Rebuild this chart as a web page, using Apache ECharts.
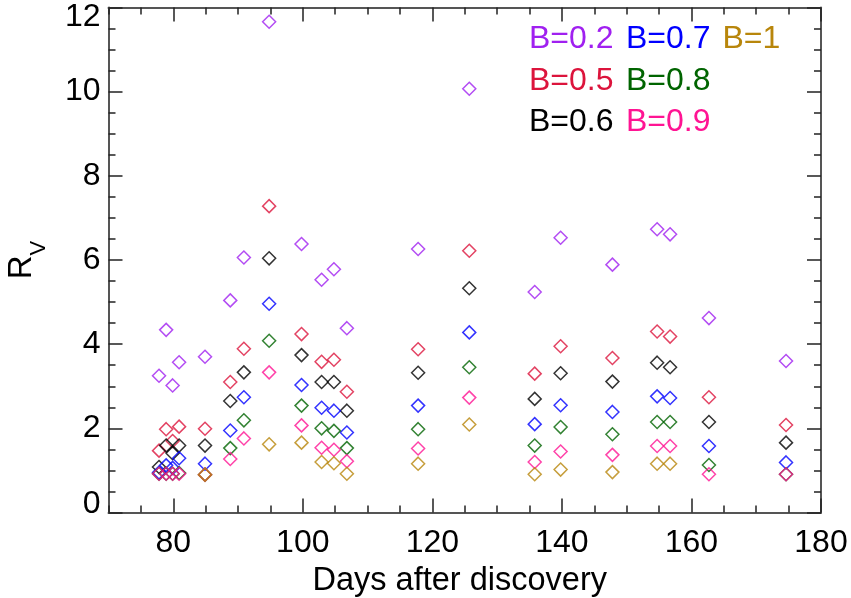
<!DOCTYPE html>
<html><head><meta charset="utf-8">
<script src="https://cdn.jsdelivr.net/npm/echarts@6/dist/echarts.min.js"></script>
<style>html,body{margin:0;padding:0;background:#fff}#c{width:851px;height:598px}</style>
</head><body><div id="c"></div>
<script>
// ---- data ----
const days = [77.8, 78.9, 79.9, 80.9, 84.9, 88.8, 90.9, 94.8, 99.8, 102.9, 104.8, 106.8, 117.8, 125.7, 135.8, 139.8, 147.8, 154.7, 156.7, 162.7, 174.6];
const rvB02 = [3.25, 4.34, 3.02, 3.57, 3.70, 5.04, 6.06, 11.66, 6.38, 5.53, 5.78, 4.38, 6.26, 10.07, 5.24, 6.53, 5.89, 6.73, 6.61, 4.62, 3.60];
const rvB05 = [1.47, 1.98, 1.70, 2.04, 1.99, 3.10, 3.89, 7.28, 4.24, 3.58, 3.63, 2.87, 3.88, 6.22, 3.30, 3.95, 3.67, 4.30, 4.18, 2.74, 2.08];
const rvB06 = [1.08, 1.59, 1.41, 1.59, 1.59, 2.65, 3.33, 6.04, 3.74, 3.10, 3.10, 2.42, 3.32, 5.33, 2.70, 3.31, 3.11, 3.56, 3.45, 2.15, 1.66];
const rvB07 = [0.95, 1.12, 1.06, 1.29, 1.16, 1.95, 2.74, 4.96, 3.03, 2.49, 2.42, 1.90, 2.54, 4.28, 2.10, 2.55, 2.39, 2.76, 2.72, 1.58, 1.19];
const rvB08 = [0.92, 0.92, 0.92, 0.94, 0.90, 1.53, 2.19, 4.08, 2.54, 2.00, 1.94, 1.53, 1.98, 3.45, 1.59, 2.03, 1.86, 2.15, 2.15, 1.13, 0.91];
const rvB09 = [0.92, 0.92, 0.92, 0.92, 0.90, 1.27, 1.76, 3.33, 2.07, 1.54, 1.49, 1.22, 1.52, 2.73, 1.20, 1.45, 1.37, 1.58, 1.58, 0.91, 0.91];
const rvB10 = [null, null, null, null, 0.90, null, null, 1.62, 1.66, 1.20, 1.17, 0.92, 1.16, 2.09, 0.91, 1.02, 0.96, 1.16, 1.16, null, null];
const seriesNames = ['B=0.2', 'B=0.5', 'B=0.6', 'B=0.7', 'B=0.8', 'B=0.9', 'B=1'];
const seriesValues = [rvB02, rvB05, rvB06, rvB07, rvB08, rvB09, rvB10];
const xMajorTicks = [80, 100, 120, 140, 160, 180];
const xTitle = 'Days after discovery';

// ---- style ----
const colors = ['#A020F0', '#DC143C', '#000000', '#0000FF', '#006400', '#FF1493', '#B8860B'];
const FONT = "'Liberation Sans', Arial, Helvetica, sans-serif";
const lineColor = '#555';
const tickColor = '#222';

const chart = echarts.init(document.getElementById('c'), null, {renderer: 'canvas'});

function xAxisDef(pos, major) {
  const a = {
    type: 'value', position: pos, min: 70, max: 180,
    axisLine: {show: major, onZero: false, lineStyle: {color: lineColor, width: 2}},
    splitLine: {show: false},
    axisLabel: {show: false},
    axisTick: {show: true, inside: true, length: major ? 14 : 7, lineStyle: {color: tickColor, width: 1.5}}
  };
  if (major) {
    a.axisTick.customValues = xMajorTicks;
    if (pos === 'bottom') {
      a.axisLabel = {show: true, customValues: xMajorTicks, fontSize: 32, fontFamily: FONT, color: '#000', margin: 15};
      a.name = xTitle;
      a.nameLocation = 'middle';
      a.nameGap = 52;
      a.nameTextStyle = {fontSize: 32.5, fontFamily: FONT, color: '#000', padding: [0, 10, 0, 0]};
    }
  } else {
    a.interval = 5;
  }
  return a;
}

function yAxisDef(pos) {
  const a = {
    type: 'value', position: pos, min: 0, max: 12, interval: 2,
    axisLine: {show: true, onZero: false, lineStyle: {color: lineColor, width: 2}},
    splitLine: {show: false},
    axisTick: {show: true, inside: true, length: 14, lineStyle: {color: tickColor, width: 1.5}},
    minorTick: {show: true, splitNumber: 4, length: 7, lineStyle: {color: tickColor, width: 1.5}},
    axisLabel: {show: false}
  };
  if (pos === 'left') {
    a.axisLabel = {show: true, fontSize: 32, fontFamily: FONT, color: '#000', margin: 8,
      formatter: v => v === 0 ? '{lo|0}' : (v === 12 ? '{hi|12}' : String(v)),
      rich: {
        lo: {fontSize: 32, fontFamily: FONT, color: '#000', padding: [0, 0, 16, 0]},
        hi: {fontSize: 32, fontFamily: FONT, color: '#000', padding: [19, 0, 0, 0]}
      }};
    a.name = '{r|R}{v|V}';
    a.nameLocation = 'middle';
    a.nameGap = 59;
    a.nameTextStyle = {
      fontFamily: FONT, color: '#000',
      rich: {
        r: {fontSize: 33, fontFamily: FONT, color: '#000', lineHeight: 44, verticalAlign: 'top'},
        v: {fontSize: 22, fontFamily: FONT, color: '#000', lineHeight: 22, verticalAlign: 'bottom'}
      }
    };
  }
  return a;
}

const series = seriesValues.map((vals, i) => ({
  type: 'scatter',
  name: seriesNames[i],
  symbol: 'diamond',
  symbolSize: 13,
  z: 2 + i,
  itemStyle: {color: 'rgba(0,0,0,0)', borderColor: colors[i], borderWidth: 1.5},
  emphasis: {disabled: true},
  data: days.map((d, j) => [d, vals[j]]).filter(p => p[1] !== null)
}));

// legend as coloured text, 3 rows per column
const legendX = [529, 626, 722.5];
const legendY = [38.5, 80, 121.5];
const graphic = seriesNames.map((n, i) => ({
  type: 'text',
  left: legendX[Math.floor(i / 3)],
  top: legendY[i % 3] - 15,
  style: {text: n, fill: colors[i], font: '32px ' + FONT, textVerticalAlign: 'top'}
}));

chart.setOption({
  animation: false,
  backgroundColor: '#fff',
  grid: {left: 108.5, right: 30, top: 7.5, bottom: 85.5, containLabel: false, outerBoundsMode: 'none'},
  xAxis: [xAxisDef('bottom', true), xAxisDef('bottom', false), xAxisDef('top', true), xAxisDef('top', false)],
  yAxis: [yAxisDef('left'), yAxisDef('right')],
  graphic: graphic,
  series: series
});
</script>
</body></html>
